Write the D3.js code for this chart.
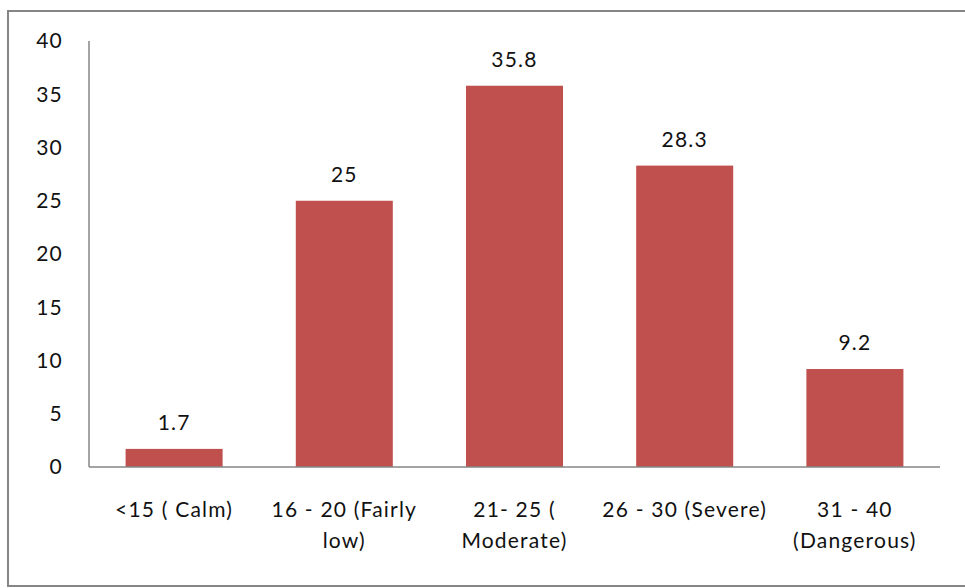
<!DOCTYPE html>
<html lang="en">
<head>
    <meta charset="UTF-8">
    <title>Distribution</title>
    <script src="https://cdnjs.cloudflare.com/ajax/libs/d3/7.8.5/d3.min.js"></script>
    <style>
        body { margin: 0; background: #fff; }
        svg { display: block; font-family: Lato, "Open Sans", sans-serif; }
        .tick-label, .value-label, .cat-label { font-size: 21px; fill: #111; letter-spacing: 1.2px; }
    </style>
</head>
<body>
    <div id="chart"></div>
    <script>
    // categories (each entry is the list of wrapped lines)
    const categories = ["<15 ( Calm)", "16 - 20 (Fairly low)", "21- 25 ( Moderate)", "26 - 30 (Severe)", "31 - 40 (Dangerous)"];
    const categoryLines = [
        ["<15 ( Calm)"],
        ["16 - 20 (Fairly", "low)"],
        ["21- 25 (", "Moderate)"],
        ["26 - 30 (Severe)"],
        ["31 - 40", "(Dangerous)"]
    ];
    const values = [1.7, 25, 35.8, 28.3, 9.2];
    const yTicks = [0, 5, 10, 15, 20, 25, 30, 35, 40];

    const W = 965, H = 588;
    const plot = {left: 89, right: 940, top: 41, bottom: 467};

    const svg = d3.select("#chart").append("svg")
        .attr("width", W)
        .attr("height", H);

    // outer frame
    svg.append("rect")
        .attr("x", 8).attr("y", 11)
        .attr("width", 980).attr("height", 575)
        .attr("fill", "none")
        .attr("stroke", "#868686")
        .attr("stroke-width", 2);

    const x = d3.scaleBand()
        .domain(categories)
        .range([plot.left, plot.right])
        .paddingInner(0.43)
        .paddingOuter(0.215);

    const y = d3.scaleLinear()
        .domain([0, 40])
        .range([plot.bottom, plot.top]);

    // y tick labels
    svg.append("g").selectAll("text")
        .data(yTicks)
        .join("text")
        .attr("class", "tick-label")
        .attr("x", 63)
        .attr("y", d => y(d))
        .attr("dy", "0.35em")
        .attr("text-anchor", "end")
        .text(d => d);

    // bars
    svg.append("g").selectAll("rect")
        .data(values)
        .join("rect")
        .attr("x", (d, i) => x(categories[i]))
        .attr("y", d => y(d))
        .attr("width", x.bandwidth())
        .attr("height", d => y(0) - y(d))
        .attr("fill", "#C0504D");

    // axes lines
    svg.append("line")
        .attr("x1", plot.left).attr("x2", plot.left)
        .attr("y1", plot.top).attr("y2", plot.bottom)
        .attr("stroke", "#868686").attr("stroke-width", 1.5);
    svg.append("line")
        .attr("x1", plot.left).attr("x2", plot.right)
        .attr("y1", plot.bottom).attr("y2", plot.bottom)
        .attr("stroke", "#868686").attr("stroke-width", 1.5);

    // value labels
    svg.append("g").selectAll("text")
        .data(values)
        .join("text")
        .attr("class", "value-label")
        .attr("x", (d, i) => x(categories[i]) + x.bandwidth() / 2)
        .attr("y", d => y(d) - 19)
        .attr("text-anchor", "middle")
        .text(d => d);

    // category labels
    const cat = svg.append("g").selectAll("text")
        .data(categories)
        .join("text")
        .attr("class", "cat-label")
        .attr("text-anchor", "middle")
        .attr("x", d => x(d) + x.bandwidth() / 2)
        .attr("y", 517);
    cat.each(function(d, i) {
        const t = d3.select(this);
        const cx = x(d) + x.bandwidth() / 2;
        categoryLines[i].forEach((line, j) => {
            t.append("tspan")
                .attr("x", cx)
                .attr("dy", j === 0 ? 0 : 31)
                .text(line);
        });
    });
    </script>
</body>
</html>
